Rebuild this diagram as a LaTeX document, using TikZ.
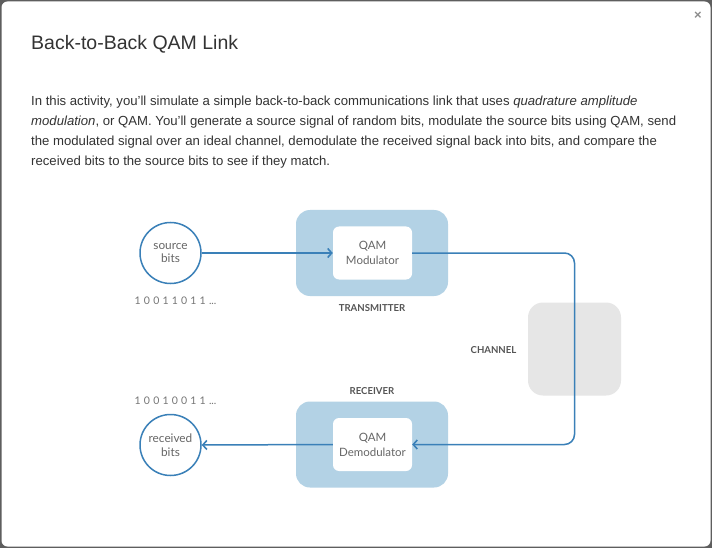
\documentclass[tikz,border=0pt]{standalone}
\usepackage{fontspec}
\setmainfont{Liberation Sans}
\newfontfamily\diag{Lato}
\usetikzlibrary{arrows.meta}
\definecolor{linkblue}{HTML}{3A80B8}
\definecolor{boxblue}{HTML}{B3D2E5}
\definecolor{chgray}{HTML}{E6E6E6}
\definecolor{txt}{HTML}{333333}
\definecolor{dtxt}{HTML}{666666}
\definecolor{ltxt}{HTML}{555555}
\definecolor{frame}{HTML}{5E5E5E}
\newcommand{\bitgap}{\hspace{3.2pt}}
\begin{document}
\begin{tikzpicture}[x=1pt,y=-1pt,
  bitcircle/.style={circle, draw=linkblue, line width=1.5pt, minimum size=61pt, inner sep=0pt, align=center, font=\diag\fontsize{11.8}{13.5}\selectfont, text=dtxt},
  outerbox/.style={rounded corners=14pt, fill=boxblue, minimum width=152pt, minimum height=86pt, inner sep=0pt},
  innerbox/.style={rounded corners=6pt, fill=white, minimum width=79pt, minimum height=53pt, inner sep=0pt, align=center, font=\diag\fontsize{11.5}{15}\selectfont, text=dtxt},
  chanbox/.style={rounded corners=15pt, fill=chgray, minimum width=93pt, minimum height=93pt, inner sep=0pt},
  caption/.style={font=\diag\bfseries\fontsize{9.6}{11}\selectfont, text=ltxt, inner sep=0pt},
  bitstr/.style={font=\diag\fontsize{10.5}{12}\selectfont, text=dtxt!90, inner sep=0pt, anchor=west},
  link/.style={draw=linkblue, line width=1.5pt, -{Straight Barb[length=4pt,width=9pt,line width=1.6pt]}},
  bodyline/.style={anchor=base west, inner sep=0pt, font=\fontsize{13.15}{20}\selectfont, text=txt},
]
\useasboundingbox (0,0) rectangle (712,548);
% dialog frame
\fill[frame] (0,0) rectangle (712,548);
\fill[white, rounded corners=6pt] (1.5,1.5) rectangle (710.5,546.5);
\node[text=black!45, font=\fontsize{13}{13}\selectfont\bfseries, inner sep=0pt] (close) at (698,15.5) {×};
% title and text
\node[anchor=base west, inner sep=0pt, font=\fontsize{19.5}{24}\selectfont, text=txt] (title) at (31,50) {Back-to-Back QAM Link};
\node[bodyline] (l1) at (31,105.5) {In this activity, you'll simulate a simple back-to-back communications link that uses \textit{quadrature amplitude}};
\node[bodyline] (l2) at (31,125.5) {\textit{modulation}, or QAM. You'll generate a source signal of random bits, modulate the source bits using QAM, send};
\node[bodyline] (l3) at (31,145.5) {the modulated signal over an ideal channel, demodulate the received signal back into bits, and compare the};
\node[bodyline] (l4) at (31,165.5) {received bits to the source bits to see if they match.};
% diagram
\node[chanbox] (chan) at (574.5,349) {};
\node[caption] (chanlbl) at (493.5,350) {CHANNEL};
\node[outerbox] (tx) at (372,253) {};
\node[innerbox] (mod) at (372.5,253) {QAM\\Modulator};
\node[caption] (txlbl) at (372,308) {TRANSMITTER};
\node[outerbox] (rx) at (372,444.5) {};
\node[innerbox] (demod) at (372.5,444.5) {QAM\\Demodulator};
\node[caption] (rxlbl) at (372,391) {RECEIVER};
\node[bitcircle] (src) at (170.5,253) {source\\bits};
\node[bitcircle] (rcv) at (170.5,445) {received\\bits};
\node[bitstr] (srcbits) at (134.5,300.5) {1\bitgap0\bitgap0\bitgap1\bitgap1\bitgap0\bitgap1\bitgap1\bitgap...};
\node[bitstr] (rcvbits) at (134.5,400.5) {1\bitgap0\bitgap0\bitgap1\bitgap0\bitgap0\bitgap1\bitgap1\bitgap...};
\coordinate (turn) at (574.5,253);
\draw[link] (src.east) -- (mod.west);
\draw[link, rounded corners=10pt] (mod.east) -- (turn) -- (turn |- demod.east) -- (demod.east);
\draw[link] (demod.west) -- (rcv.east);
\end{tikzpicture}
\end{document}
